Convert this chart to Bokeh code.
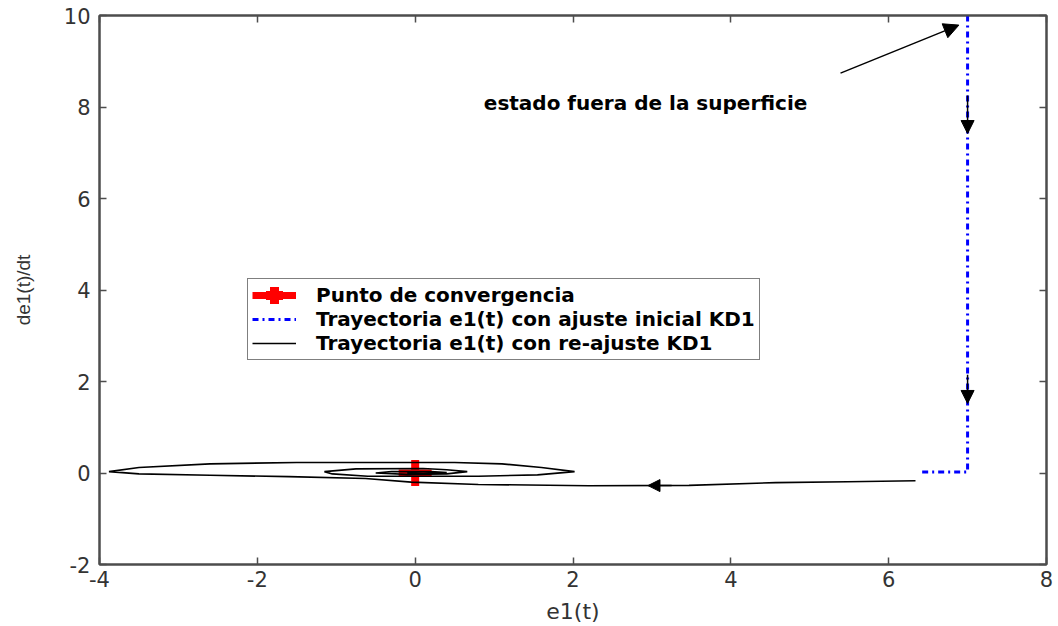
import math
from bokeh.plotting import figure
from bokeh.models import (Range1d, LinearAxis, FixedTicker, Arrow, NormalHead,
                          Label, Legend, LegendItem)
from bokeh.embed import file_html
from bokeh.resources import INLINE

# Phase-plane data: error e1(t) versus its derivative de1(t)/dt
conv_e1 = [0.0]
conv_de1 = [0.0]

# trajectory with the initial KD1 tuning (state off the sliding surface)
init_e1 = [7.0, 7.0, 6.42]
init_de1 = [10.0, 0.02, 0.02]

# trajectory after re-tuning KD1: spirals into the origin
re_e1 = [6.34, 5.48, 4.57, 3.47, 2.2, 0.8, -0.05, -0.63, -1.6, -2.6, -3.5, -3.88,
         -3.5, -2.6, -1.5, 0.5, 1.1, 1.6, 2.02, 1.55, 0.8, -0.6, -1.05, -1.15,
         -0.75, 0.1, 0.4, 0.66, 0.4, -0.1, -0.5, -0.3, 0.2, 0.4, 0.1, -0.1, 0.0]
re_de1 = [-0.17, -0.19, -0.21, -0.27, -0.28, -0.25, -0.2, -0.12, -0.08, -0.05, -0.02, 0.03,
          0.12, 0.2, 0.23, 0.23, 0.2, 0.12, 0.03, -0.04, -0.07, -0.07, -0.02, 0.03,
          0.09, 0.1, 0.07, 0.03, -0.02, -0.03, 0.0, 0.03, 0.03, 0.01, -0.01, 0.0, 0.0]

x_ticks = [-4, -2, 0, 2, 4, 6, 8]
y_ticks = [-2, 0, 2, 4, 6, 8, 10]

legend_labels = ["Punto de convergencia",
                 "Trayectoria e1(t) con ajuste inicial KD1",
                 "Trayectoria e1(t) con re-ajuste KD1"]
note_text = "estado fuera de la superficie"

AX_COLOR = "#4d4d4d"
TICK_FONT = "DejaVu Sans"
RED = "#ff0000"
NAN = [float("nan")]

p = figure(width=1058, height=626, x_range=Range1d(-4, 8), y_range=Range1d(-2, 10),
           output_backend="svg", toolbar_location=None,
           min_border_left=99, min_border_right=12, min_border_top=15, min_border_bottom=61)
p.grid.visible = False
p.outline_line_color = AX_COLOR
p.outline_line_width = 2
p.background_fill_color = "white"
p.border_fill_color = "white"


def style_axis(ax, ticks, show_labels=True):
    ax.ticker = FixedTicker(ticks=ticks)
    ax.major_label_overrides = {t: str(t) for t in ticks}
    ax.major_tick_in = 7
    ax.major_tick_out = 0
    ax.minor_tick_line_color = None
    ax.axis_line_color = AX_COLOR
    ax.axis_line_width = 2
    ax.major_tick_line_color = AX_COLOR
    ax.major_tick_line_width = 1.5
    if show_labels:
        ax.major_label_text_font = TICK_FONT
        ax.major_label_text_font_size = "21px"
        ax.major_label_text_color = "#333333"
    else:
        ax.major_label_text_font_size = "0px"
        ax.major_label_standoff = 0


style_axis(p.xaxis[0], x_ticks)
style_axis(p.yaxis[0], y_ticks)
p.xaxis[0].major_label_standoff = 6
p.yaxis[0].major_label_standoff = 9
p.xaxis[0].axis_label = "e1(t)"
p.yaxis[0].axis_label = "de1(t)/dt"
for ax in (p.xaxis[0], p.yaxis[0]):
    ax.axis_label_text_font_style = "normal"
    ax.axis_label_text_color = "#333333"
p.xaxis[0].axis_label_text_font = "DejaVu Sans"
p.xaxis[0].axis_label_text_font_size = "22px"
p.yaxis[0].axis_label_text_font = "Liberation Sans"
p.yaxis[0].axis_label_text_font_size = "19px"
p.xaxis[0].axis_label_standoff = 9
p.yaxis[0].axis_label_standoff = 27

top_ax = LinearAxis()
style_axis(top_ax, x_ticks, show_labels=False)
p.add_layout(top_ax, "above")
right_ax = LinearAxis()
style_axis(right_ax, y_ticks, show_labels=False)
p.add_layout(right_ax, "right")

# convergence point: a red plus made of a horizontal and a vertical bar
p.scatter(conv_e1, conv_de1, marker="dash", size=33, line_color=RED, line_width=7)
p.scatter(conv_e1, conv_de1, marker="dash", angle=math.pi / 2, size=18,
          line_color=RED, line_width=8, line_cap="square")
# legend swatch for the plus: a wide bar and a short thick cross (no drawable data)
r_key_h = p.segment(x0=NAN, y0=NAN, x1=NAN, y1=NAN, line_color=RED, line_width=7)
r_key_v = p.scatter(NAN, NAN, marker="cross", line_color=RED, line_width=9,
                    line_cap="square")

# curves
r_init = p.line(init_e1, init_de1, line_color="#0000ff", line_width=3, line_dash="dashdot")
r_re = p.line(re_e1, re_de1, line_color="black", line_width=1.6)

# direction arrows along the trajectories
for xs, ys, xe, ye, sz in [(7.0, 8.25, 7.0, 7.42, 13), (7.0, 2.15, 7.0, 1.52, 13),
                           (3.25, -0.275, 2.95, -0.275, 12)]:
    p.add_layout(Arrow(x_start=xs, y_start=ys, x_end=xe, y_end=ye, line_color="black",
                       line_width=1.5,
                       end=NormalHead(size=sz, fill_color="black", line_color="black")))

# annotation pointing at the initial state
p.add_layout(Arrow(x_start=5.39, y_start=8.74, x_end=6.89, y_end=9.79, line_color="black",
                   line_width=1.5,
                   end=NormalHead(size=15, fill_color="black", line_color="black")))
p.add_layout(Label(x=0.87, y=8.09, text=note_text, text_font="DejaVu Sans",
                   text_font_style="bold", text_font_size="20px", text_color="black",
                   text_baseline="middle", text_align="left"))

legend = Legend(items=[LegendItem(label=legend_labels[0], renderers=[r_key_h, r_key_v]),
                       LegendItem(label=legend_labels[1], renderers=[r_init]),
                       LegendItem(label=legend_labels[2], renderers=[r_re])],
                location=(148, 204))
legend.label_text_font = "DejaVu Sans"
legend.label_text_font_style = "bold"
legend.label_text_font_size = "20px"
legend.label_text_color = "black"
legend.label_height = 20
legend.glyph_height = 20
legend.glyph_width = 44
legend.spacing = 0
legend.padding = 4
legend.margin = 0
legend.label_standoff = 20
legend.border_line_color = "black"
legend.border_line_width = 1
legend.background_fill_alpha = 1
p.add_layout(legend, "center")

open("out.html", "w").write(file_html(p, INLINE))
